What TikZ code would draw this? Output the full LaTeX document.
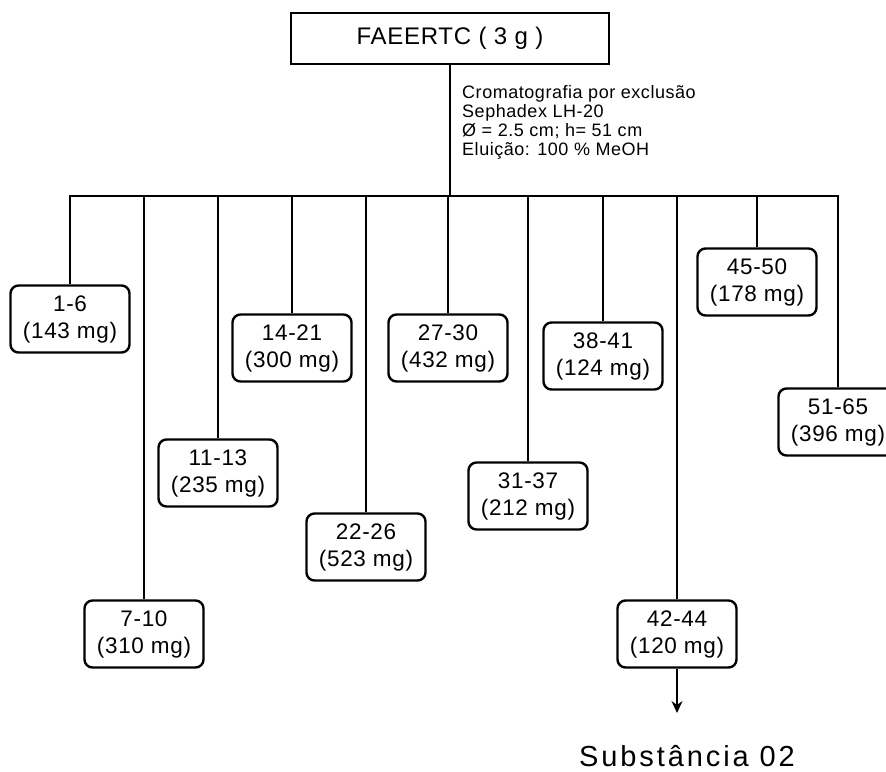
\documentclass[tikz,border=0pt]{standalone}
\usepackage{fontspec}
\setmainfont{Liberation Sans}
\newfontfamily\widesans[LetterSpace=3]{Liberation Sans}
\newfontfamily\widersans[LetterSpace=10]{Liberation Sans}
\usetikzlibrary{arrows.meta}

\begin{document}
\begin{tikzpicture}[
			x=1pt,y=-1pt,
			fracbox/.style={
				draw,
				rounded corners=8pt,
				minimum width=119pt,
				minimum height=67pt,
				align=center,
				inner sep=2pt,
				font=\widesans\fontsize{22.5}{27}\selectfont,
				line width=2.4pt
			},
			topbox/.style={
				draw,
				minimum width=318pt,
				minimum height=51pt,
				font=\widesans\fontsize{24}{28}\selectfont,
				line width=2pt
			},
			branch/.style={line width=1.6pt}
			]
			\useasboundingbox (0,0) rectangle (886,771);
			\node[topbox] (top) at (450,38) {FAEERTC ( 3 g )};
			\node[anchor=north west,align=left,inner sep=0pt,
				font=\widesans\fontsize{18}{19}\selectfont] (cond) at (462,85) {
				Cromatografia por exclusão\\
				Sephadex LH-20\\
				Ø = 2.5 cm; h= 51 cm\\
				Eluição: 100 \% MeOH
			};
			\coordinate (bar) at (448,196);
			\node[fracbox] (fr1) at (70,319) {1-6\\(143 mg)};
			\node[fracbox] (fr7) at (144,634) {7-10\\(310 mg)};
			\node[fracbox] (fr11) at (218,473) {11-13\\(235 mg)};
			\node[fracbox] (fr14) at (292,348) {14-21\\(300 mg)};
			\node[fracbox] (fr22) at (366,547) {22-26\\(523 mg)};
			\node[fracbox] (fr27) at (448,348) {27-30\\(432 mg)};
			\node[fracbox] (fr31) at (528,496) {31-37\\(212 mg)};
			\node[fracbox] (fr38) at (603,356) {38-41\\(124 mg)};
			\node[fracbox] (fr42) at (677,634) {42-44\\(120 mg)};
			\node[fracbox] (fr45) at (757,282) {45-50\\(178 mg)};
			\node[fracbox] (fr51) at (838,422) {51-65\\(396 mg)};
			\node[anchor=base,inner sep=0pt,font=\widersans\fontsize{29}{32}\selectfont] (sub) at (687,766) {Substância 02};
			\coordinate (tip) at (677,713);

			\draw[branch] (top.south) -- (top.south |- bar);
			\draw[branch] (fr1.north) -- (fr1.north |- bar) -- (fr51.north |- bar) -- (fr51.north);
			\foreach \f in {fr7,fr11,fr14,fr22,fr27,fr31,fr38,fr42,fr45}
				\draw[branch] (\f.north |- bar) -- (\f.north);
			\draw[branch,-{Stealth[length=12pt,width=11pt,inset=4pt]}] (fr42.south) -- (tip);
		\end{tikzpicture}
\end{document}
